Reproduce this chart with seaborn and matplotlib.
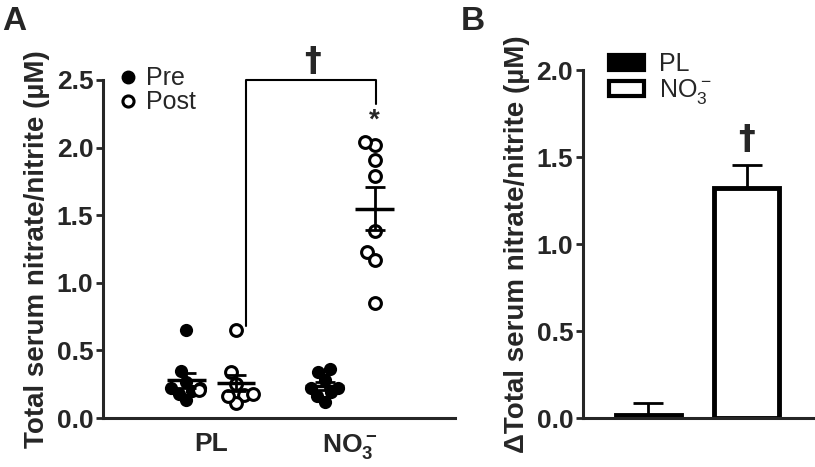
import matplotlib
matplotlib.use('Agg')
import matplotlib.pyplot as plt
from matplotlib.lines import Line2D
from matplotlib.patches import Patch
import seaborn as sns
import pandas as pd
import numpy as np

# Panel A data (uM), one value per subject
pl_pre = [0.65, 0.35, 0.22, 0.27, 0.20, 0.13, 0.22, 0.18]
pl_post = [0.65, 0.34, 0.17, 0.21, 0.18, 0.11, 0.16, 0.25]
no3_pre = [0.34, 0.36, 0.28, 0.22, 0.16, 0.12, 0.19, 0.22]
no3_post = [2.02, 2.04, 1.91, 1.79, 1.38, 1.23, 1.17, 0.85]
groups_a = ['PL', 'NO3']
tick_labels_a = ['PL', r'$\mathbf{NO_3^-}$']

# Panel B data: change (post - pre), mean and SEM
groups_b = ['PL', 'NO3']
delta_mean = [0.02, 1.32]
delta_sem = [0.065, 0.135]

sns.set_style('ticks')
plt.rcParams['font.family'] = ['Liberation Sans', 'DejaVu Sans']
plt.rcParams['mathtext.fontset'] = 'custom'
plt.rcParams['mathtext.rm'] = 'Liberation Sans'
plt.rcParams['mathtext.bf'] = 'Liberation Sans:bold'
plt.rcParams['axes.linewidth'] = 2.2
plt.rcParams['xtick.major.width'] = 2
plt.rcParams['ytick.major.width'] = 2
plt.rcParams['xtick.major.size'] = 5
plt.rcParams['ytick.major.size'] = 5

fig = plt.figure(figsize=(8.15, 4.67), dpi=100)
ax1 = fig.add_axes([0.1264, 0.1049, 0.4319, 0.7238])
ax2 = fig.add_axes([0.7153, 0.1049, 0.2847, 0.7452])

# ---- panel A ----
shift = 0.18
rows = []
for i, (pre, post) in enumerate([(pl_pre, pl_post), (no3_pre, no3_post)]):
    for v in pre:
        rows.append({'group': groups_a[i], 'time': 'Pre', 'pos': i - shift, 'value': v})
    for v in post:
        rows.append({'group': groups_a[i], 'time': 'Post', 'pos': i + shift, 'value': v})
df = pd.DataFrame(rows)

sns.swarmplot(data=df[df.time == 'Pre'], x='pos', y='value', native_scale=True,
              color='black', size=9.5, ax=ax1, zorder=2)
sns.swarmplot(data=df[df.time == 'Post'], x='pos', y='value', native_scale=True,
              color='white', edgecolor='black', linewidth=2.2, size=8.5, ax=ax1, zorder=2)

stats = df.groupby('pos')['value'].agg(['mean', 'sem']).reset_index()
ax1.hlines(stats['mean'], stats['pos'] - 0.14, stats['pos'] + 0.14, color='black', lw=2.5, zorder=3)
ax1.errorbar(stats['pos'], stats['mean'], yerr=stats['sem'], fmt='none', ecolor='black',
             elinewidth=2, capsize=7, capthick=2, zorder=3)

ax1.set_xlim(-0.78, 1.76)
ax1.set_ylim(0, 2.5)
ax1.set_yticks(np.arange(0, 2.51, 0.5))
ax1.set_yticklabels([f'{t:.1f}' for t in np.arange(0, 2.51, 0.5)], fontsize=19, fontweight='bold')
ax1.set_xticks([0, 1])
ax1.set_xticklabels(tick_labels_a, fontsize=19, fontweight='bold')
ax1.tick_params(axis='x', length=0, pad=10)
ax1.tick_params(axis='y', pad=2)
ax1.set_xlabel('')
ax1.set_ylabel('Total serum nitrate/nitrite (\u00b5M)', fontsize=20, fontweight='bold', labelpad=5)
sns.despine(ax=ax1)

# significance bracket
ax1.plot([0.25, 0.25, 1.19, 1.19], [0.68, 2.5, 2.5, 2.32], color='black', lw=1.5, clip_on=False)
ax1.text(0.73, 2.64, '\u2020', ha='center', va='center', fontsize=24, fontweight='bold',
         family='DejaVu Sans')
ax1.text(1.18, 2.2, '*', ha='center', va='center', fontsize=20, fontweight='bold')

handles_a = [Line2D([], [], marker='o', ls='none', color='black', markersize=9),
             Line2D([], [], marker='o', ls='none', markerfacecolor='white',
                    markeredgecolor='black', markeredgewidth=2.2, markersize=8)]
ax1.legend(handles_a, ['Pre', 'Post'], loc='upper left', bbox_to_anchor=(0.0, 1.07),
           frameon=False, fontsize=18, handletextpad=0.1, labelspacing=0.0,
           borderaxespad=0, handlelength=1.2)

# ---- panel B ----
sns.barplot(x=groups_b, y=delta_mean, hue=groups_b, palette=['black', 'white'],
            edgecolor='black', linewidth=3.5, width=0.66, legend=False, ax=ax2)
ax2.errorbar([0, 1], delta_mean, yerr=[[0, 0], delta_sem], fmt='none', ecolor='black',
             elinewidth=2, capsize=11, capthick=2)
ax2.set_xlim(-0.66, 1.69)
ax2.set_ylim(0, 2.0)
ax2.set_yticks(np.arange(0, 2.01, 0.5))
ax2.set_yticklabels([f'{t:.1f}' for t in np.arange(0, 2.01, 0.5)], fontsize=19, fontweight='bold')
ax2.tick_params(axis='y', pad=2)
ax2.set_xticks([])
ax2.set_ylabel('\u0394Total serum nitrate/nitrite (\u00b5M)', fontsize=20, fontweight='bold', labelpad=5)
sns.despine(ax=ax2)
ax2.text(1, 1.6, '\u2020', ha='center', va='center', fontsize=24, fontweight='bold',
         family='DejaVu Sans')

handles_b = [Patch(facecolor='black', edgecolor='black', linewidth=3),
             Patch(facecolor='white', edgecolor='black', linewidth=3)]
ax2.legend(handles_b, ['PL', r'$\mathregular{NO_3^-}$'], loc='upper left', bbox_to_anchor=(0.07, 1.08),
           frameon=False, fontsize=18, handletextpad=0.6, labelspacing=0.05,
           borderaxespad=0, handlelength=1.4, handleheight=0.55)

fig.text(0.003, 0.955, 'A', fontsize=24, fontweight='bold', va='center')
fig.text(0.565, 0.955, 'B', fontsize=24, fontweight='bold', va='center')

# seaborn lays the swarm out at draw time; draw once, then pull the swarms
# tighter so the points overlap like the original and freeze them
fig.canvas.draw()
centers = np.array(sorted(df['pos'].unique()))
for coll in ax1.collections:
    if 'draw' not in coll.__dict__:
        continue
    offs = np.array(coll.get_offsets())
    c = centers[np.abs(offs[:, [0]] - centers[None, :]).argmin(axis=1)]
    offs[:, 0] = c + (offs[:, 0] - c) * 0.6
    del coll.draw
    coll.set_offsets(offs)

fig.savefig('out.png', dpi=100)
